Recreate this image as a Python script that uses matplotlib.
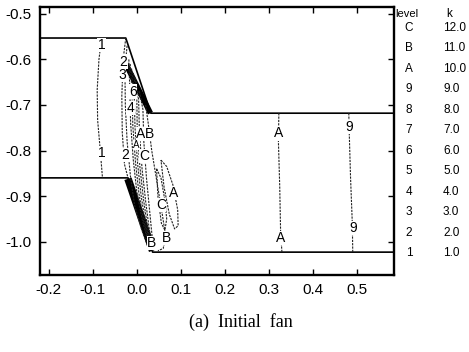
import matplotlib.pyplot as plt

# passage boundaries (periodic lines + blade surfaces)
upper_x = [-0.22, -0.025, 0.032, 0.585]
upper_y = [-0.553, -0.553, -0.718, -0.718]
lower_x = [-0.22, -0.020, 0.036, 0.585]
lower_y = [-0.860, -0.860, -1.023, -1.023]

# crowded contours right on the blade (drawn as thick bands)
band_up_x = [-0.030, 0.031]
band_up_y = [-0.600, -0.718]
band_lo_x = [-0.020, 0.036]
band_lo_y = [-0.862, -1.020]

contours = [
    ([-0.080, -0.086, -0.090, -0.089, -0.083, -0.078],
     [-0.553, -0.600, -0.667, -0.733, -0.800, -0.860]),
    ([-0.025, -0.031, -0.034, -0.033, -0.028, -0.020],
     [-0.553, -0.600, -0.680, -0.760, -0.830, -0.860]),
    ([-0.022, -0.027, -0.026, -0.022, -0.014, -0.005, 0.010, 0.025],
     [-0.570, -0.620, -0.700, -0.780, -0.860, -0.920, -0.970, -1.010]),
    ([-0.018, -0.016, -0.014, -0.008, 0.000, 0.012, 0.028],
     [-0.600, -0.660, -0.740, -0.820, -0.890, -0.950, -1.010]),
    ([-0.015, -0.011, -0.009, -0.003, 0.005, 0.016, 0.030],
     [-0.610, -0.665, -0.745, -0.825, -0.895, -0.955, -1.012]),
    ([-0.012, -0.006, -0.004, 0.002, 0.010, 0.020, 0.032],
     [-0.620, -0.670, -0.750, -0.830, -0.900, -0.960, -1.015]),
    ([-0.008, 0.000, 0.001, 0.007, 0.015, 0.024, 0.034],
     [-0.630, -0.675, -0.755, -0.835, -0.905, -0.965, -1.018]),
    ([-0.004, 0.004, 0.006, 0.012, 0.020, 0.028, 0.036],
     [-0.640, -0.680, -0.760, -0.840, -0.910, -0.970, -1.020]),
    ([0.006, 0.014, 0.016, 0.022, 0.030, 0.038],
     [-0.670, -0.710, -0.780, -0.860, -0.940, -1.020]),
    ([0.020, 0.026, 0.034, 0.046, 0.058, 0.066, 0.060, 0.048],
     [-0.700, -0.740, -0.800, -0.870, -0.940, -0.990, -1.015, -1.020]),
    ([0.055, 0.068, 0.082, 0.093, 0.094, 0.086, 0.074, 0.062, 0.055],
     [-0.821, -0.835, -0.875, -0.930, -0.965, -0.972, -0.940, -0.880, -0.821]),
    ([0.045, 0.055, 0.064, 0.068, 0.064, 0.056, 0.048, 0.045],
     [-0.840, -0.860, -0.910, -0.950, -0.975, -0.960, -0.900, -0.840]),
    ([0.323, 0.322, 0.325, 0.327, 0.330],
     [-0.718, -0.780, -0.880, -0.980, -1.023]),
    ([0.482, 0.483, 0.486, 0.490, 0.491],
     [-0.718, -0.760, -0.860, -0.960, -1.023]),
]

# contour labels (x, y, text, size)
lab_x = [-0.080, -0.080, -0.030, -0.034, -0.009, -0.014, 0.009, 0.030, 0.016,
         -0.026, -0.001, 0.084, 0.055, 0.068, 0.034, 0.323, 0.327, 0.482, 0.491]
lab_y = [-0.568, -0.805, -0.605, -0.634, -0.671, -0.707, -0.764, -0.764, -0.812,
         -0.810, -0.788, -0.893, -0.920, -0.992, -1.003, -0.762, -0.992, -0.748, -0.970]
lab_t = ['1', '1', '2', '3', '6', '4', 'A', 'B', 'C',
         '2', 'A', 'A', 'C', 'B', 'B', 'A', 'A', '9', '9']
lab_s = [10, 10, 10, 10, 10, 10, 10, 10, 10,
         10, 7, 10, 10, 10, 10, 10, 10, 10, 10]

levels = ['C', 'B', 'A', '9', '8', '7', '6', '5', '4', '3', '2', '1']
k_vals = ['12.0', '11.0', '10.0', '9.0', '8.0', '7.0', '6.0', '5.0', '4.0', '3.0', '2.0', '1.0']

plt.rcParams['font.family'] = ['Liberation Sans', 'DejaVu Sans']

fig = plt.figure(figsize=(4.69, 3.52), dpi=100)
ax = fig.add_axes([0.0853, 0.219, 0.755, 0.761])

ax.plot(upper_x, upper_y, color='black', lw=1.2)
ax.plot(lower_x, lower_y, color='black', lw=1.2)
ax.plot(band_up_x, band_up_y, color='black', lw=4, solid_capstyle='butt')
ax.plot(band_lo_x, band_lo_y, color='black', lw=5.5, solid_capstyle='butt')

for cx, cy in contours:
    ax.plot(cx, cy, color='#222222', lw=0.8, dashes=(2, 1))

for x, y, t, s in zip(lab_x, lab_y, lab_t, lab_s):
    ax.text(x, y, t, fontsize=s, ha='center', va='center',
            bbox=dict(facecolor='white', edgecolor='none', pad=0.2))

ax.set_xlim(-0.22, 0.585)
ax.set_ylim(-1.073, -0.485)
ax.set_xticks([-0.2, -0.1, 0.0, 0.1, 0.2, 0.3, 0.4, 0.5])
ax.set_yticks([-0.5, -0.6, -0.7, -0.8, -0.9, -1.0])
ax.set_xticklabels(['-0.2', '-0.1', '0.0', '0.1', '0.2', '0.3', '0.4', '0.5'])
ax.set_yticklabels(['-0.5', '-0.6', '-0.7', '-0.8', '-0.9', '-1.0'])
ax.tick_params(direction='in', length=4, width=1, top=True, right=True,
               labelsize=11, pad=6)
for s in ax.spines.values():
    s.set_linewidth(1.7)

# level / k table at the right
fig.text(407 / 469, 1 - 14 / 352, 'level', fontsize=8, ha='center', va='center')
fig.text(449 / 469, 1 - 14 / 352, 'k', fontsize=8.5, ha='center', va='center')
for i, (lv, kv) in enumerate(zip(levels, k_vals)):
    yy = 1 - (28 + i * 20.45) / 352
    fig.text(409 / 469, yy, lv, fontsize=8.5, ha='center', va='center')
    fig.text(443 / 469, yy, kv, fontsize=8.5, ha='left', va='center')

fig.text(0.514, 1 - 322 / 352, '(a)  Initial  fan', fontsize=13, ha='center',
         va='center', family=['Liberation Serif', 'DejaVu Serif'])

fig.savefig('out.png', dpi=100)
